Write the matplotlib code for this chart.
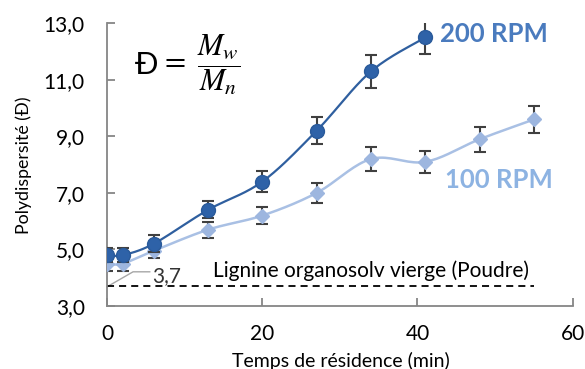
import numpy as np
import matplotlib
matplotlib.use("Agg")
import matplotlib.pyplot as plt

plt.rcParams['font.family'] = ['Lato', 'DejaVu Sans']
plt.rcParams['mathtext.fontset'] = 'stix'

# data
t_200 = [0, 2, 6, 13, 20, 27, 34, 41]
d_200 = [4.8, 4.8, 5.2, 6.4, 7.4, 9.2, 11.3, 12.5]
err_200 = [0.25, 0.25, 0.3, 0.3, 0.37, 0.47, 0.57, 0.57]

t_100 = [0, 2, 6, 13, 20, 27, 34, 41, 48, 55]
d_100 = [4.5, 4.5, 4.95, 5.7, 6.2, 7.0, 8.2, 8.1, 8.9, 9.6]
err_100 = [0.25, 0.25, 0.25, 0.28, 0.3, 0.34, 0.42, 0.39, 0.45, 0.47]

ref_value = 3.7
ref_span = [0, 55]

xticks = [0, 20, 40, 60]
yticks = [3, 5, 7, 9, 11, 13]


def smooth(x, y, n=20):
  # Excel-like smoothed line (bezier through the points)
  p = np.column_stack([x, y]).astype(float)
  p = np.vstack([p[0], p, p[-1]])
  out = []
  for i in range(1, len(p) - 2):
    p0, p1, p2, p3 = p[i - 1], p[i], p[i + 1], p[i + 2]
    c1 = p1 + (p2 - p0) / 6
    c2 = p2 - (p3 - p1) / 6
    s = np.linspace(0, 1, n)[:, None]
    seg = (1 - s)**3 * p1 + 3 * (1 - s)**2 * s * c1 + 3 * (1 - s) * s**2 * c2 + s**3 * p2
    out.append(seg)
  out = np.vstack(out)
  return out[:, 0], out[:, 1]


fig = plt.figure(figsize=(5.85, 3.69), dpi=100)
ax = fig.add_axes([0.183, 0.1707, 0.796, 0.766])

c200 = '#2F5F9F'
c100 = '#A9C0E4'
grey = '#868686'

ax.plot(ref_span, [ref_value, ref_value], color='black', linestyle=(0, (3.9, 2.8)), linewidth=1.3, zorder=2)

xs, ys = smooth(t_100, d_100)
ax.plot(xs, ys, color=c100, linewidth=1.8, zorder=3)
ax.errorbar(t_100, d_100, yerr=err_100, fmt='none', ecolor='#404040', elinewidth=1.5, capsize=4.5, capthick=1.5, zorder=4)
ax.plot(t_100, d_100, linestyle='none', marker='D', markersize=7.2, color='#9DB6DF', markeredgecolor='#9DB6DF', zorder=5)

xs, ys = smooth(t_200, d_200)
ax.plot(xs, ys, color=c200, linewidth=1.6, zorder=6)
ax.errorbar(t_200, d_200, yerr=err_200, fmt='none', ecolor='#404040', elinewidth=1.5, capsize=4.5, capthick=1.5, zorder=7)
ax.plot(t_200, d_200, linestyle='none', marker='o', markersize=10, color='#2E62A8', markeredgecolor='#2A5A9A', zorder=8)

ax.set_xlim(0, 60)
ax.set_ylim(3, 13)
ax.set_xticks(xticks)
ax.set_yticks(yticks)
ax.set_yticklabels([f"{v:.1f}".replace('.', ',') for v in yticks])

for s in ['top', 'right']:
  ax.spines[s].set_visible(False)
for s in ['left', 'bottom']:
  ax.spines[s].set_color(grey)
  ax.spines[s].set_linewidth(1.3)

ax.tick_params(axis='both', direction='in', length=5.5, width=1.3, color=grey, labelsize=15, labelcolor='black')
ax.tick_params(axis='x', pad=13)
ax.tick_params(axis='y', pad=16)

ax.set_xlabel("Temps de résidence (min)", fontsize=14)
ax.xaxis.label.set_verticalalignment('baseline')
ax.xaxis.set_label_coords(0.502, -0.215)
ax.set_ylabel("Polydispersité (Đ)", fontsize=12.8)
ax.yaxis.label.set_verticalalignment('center')
ax.yaxis.set_label_coords(-0.178, 0.498)

ax.text(42.9, 12.33, "200 RPM", color='#4A7BBE', fontsize=18.5, fontweight='bold', va='baseline', ha='left')
ax.text(43.6, 7.17, "100 RPM", color='#8DB3E2', fontsize=18.5, fontweight='bold', va='baseline', ha='left')

ax.text(13.6, 4.03, "Lignine organosolv vierge (Poudre)", fontsize=15, va='baseline', ha='left')
ax.text(5.75, 3.86, "3,7", fontsize=15, va='baseline', ha='left', color='#333333')
ax.plot([0.0, 3.35, 5.5], [3.68, 4.21, 4.21], color='#A6A6A6', linewidth=1, clip_on=False, zorder=1)

fig.text(0.23, 0.825, "Đ", fontsize=22, va='center', ha='left')
fig.text(0.273, 0.825, r"$=\ \dfrac{M_w}{M_n}$", fontsize=22, va='center', ha='left')

fig.savefig("out.png", dpi=100)
